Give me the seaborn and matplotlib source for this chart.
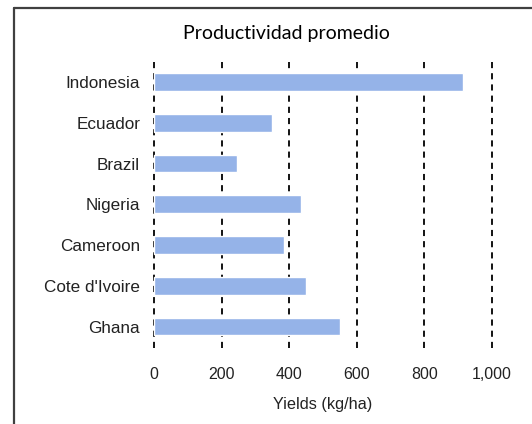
import matplotlib
matplotlib.use("Agg")
import matplotlib.pyplot as plt
from matplotlib.lines import Line2D
from matplotlib.ticker import FuncFormatter
import seaborn as sns
import pandas as pd

countries = ["Indonesia", "Ecuador", "Brazil", "Nigeria", "Cameroon", "Cote d'Ivoire", "Ghana"]
yields = [914, 348, 246, 434, 386, 450, 552]
xticks = [0, 200, 400, 600, 800, 1000]

df = pd.DataFrame({"country": countries, "yield": yields})

sns.set_style("white")
plt.rcParams["font.family"] = ["Liberation Sans", "DejaVu Sans"]

fig = plt.figure(figsize=(5.32, 4.24), dpi=100)
ax = fig.add_axes([0.283, 0.179, 0.648, 0.6795])

# dashed vertical gridlines behind the bars
for t in xticks:
    ax.axvline(t, color="black", linestyle=(0, (3.4, 2.8)), linewidth=1.3, zorder=0)

sns.barplot(data=df, x="yield", y="country", orient="h", color="#95b3e8",
            saturation=1, width=0.44, ax=ax, zorder=2)

ax.set_xlim(-10, 1010)
ax.set_ylim(6.53, -0.54)
ax.set_xticks(xticks)
ax.xaxis.set_major_formatter(FuncFormatter(lambda v, p: f"{int(v):,}"))
ax.tick_params(axis="x", length=0, pad=13.5, labelsize=11.5, labelcolor="#222222")
ax.tick_params(axis="y", length=0, pad=7.5, labelsize=12.3, labelcolor="#222222")
ax.set_xlabel("Yields (kg/ha)", fontsize=11.7, color="#222222", labelpad=11)
ax.set_ylabel("")
sns.despine(ax=ax, left=True, bottom=True)

fig.text(286 / 532, 1 - 33 / 424, "Productividad promedio", ha="center", va="center",
         fontsize=14, family=["Lato", "DejaVu Sans"], color="black")

# outer frame (left and top edges)
fig.add_artist(Line2D([14 / 532, 14 / 532], [0, 1 - 8 / 424], transform=fig.transFigure,
                      color="#404040", linewidth=1.6))
fig.add_artist(Line2D([14 / 532, 1], [1 - 8 / 424, 1 - 8 / 424], transform=fig.transFigure,
                      color="#404040", linewidth=1.6))

fig.savefig("out.png", dpi=100)
